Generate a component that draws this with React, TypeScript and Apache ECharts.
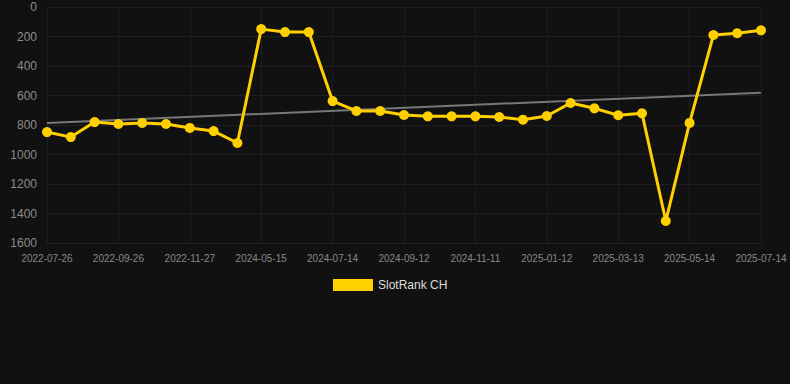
import React, { useEffect, useRef } from "react";
import * as echarts from "echarts";

const categories: string[] = [
  "2022-07-26", "2022-08-15", "2022-09-05", "2022-09-26", "2022-10-16", "2022-11-06",
  "2022-11-27", "2022-12-18", "2023-01-08", "2024-05-15", "2024-06-04", "2024-06-24",
  "2024-07-14", "2024-08-03", "2024-08-23", "2024-09-12", "2024-10-02", "2024-10-22",
  "2024-11-11", "2024-12-01", "2024-12-22", "2025-01-12", "2025-02-01", "2025-02-21",
  "2025-03-13", "2025-04-02", "2025-04-23", "2025-05-14", "2025-06-03", "2025-06-23",
  "2025-07-14",
];

const rankValues: number[] = [
  848, 882, 780, 793, 786, 793, 820, 841, 922, 150, 170, 170,
  638, 705, 705, 732, 741, 741, 741, 746, 764, 739, 651, 687,
  734, 721, 1451, 786, 190, 178, 158,
];

const trendStart = 786;
const trendEnd = 581;

const yTicks = { min: 0, max: 1600, interval: 200 };

export default function App() {
  const ref = useRef<HTMLDivElement>(null);
  useEffect(() => {
    document.body.style.margin = "0";
    document.body.style.background = "#111111";
    const chart = echarts.init(ref.current!, undefined, { renderer: "svg" });
    const trendData: (number | null)[] = categories.map((_, i) =>
      i === 0 ? trendStart : i === categories.length - 1 ? trendEnd : null
    );
    chart.setOption({
      animation: false,
      backgroundColor: "#111111",
      grid: { left: 47, right: 29, top: 7, bottom: 141 },
      legend: {
        top: 274,
        left: 328,
        itemWidth: 40,
        itemHeight: 12,
        itemGap: 10,
        icon: "rect",
        data: ["SlotRank CH"],
        textStyle: { color: "#dddddd", fontSize: 12, fontFamily: "Arial, Liberation Sans, sans-serif" },
      },
      xAxis: {
        type: "category",
        data: categories,
        boundaryGap: false,
        axisLine: { show: false },
        axisTick: { show: false },
        axisLabel: {
          interval: 2,
          color: "#888888",
          fontSize: 10,
          margin: 10,
          fontFamily: "Arial, Liberation Sans, sans-serif",
        },
        splitLine: { show: true, interval: 2, lineStyle: { color: "#1e1e1e", width: 1 } },
      },
      yAxis: {
        type: "value",
        inverse: true,
        min: yTicks.min,
        max: yTicks.max,
        interval: yTicks.interval,
        axisLine: { show: false },
        axisTick: { show: false },
        axisLabel: {
          color: "#8c8c8c",
          fontSize: 12,
          margin: 10,
          formatter: (v: number) => String(v),
          fontFamily: "Arial, Liberation Sans, sans-serif",
        },
        splitLine: { show: true, lineStyle: { color: "#1e1e1e", width: 1 } },
      },
      series: [
        {
          name: "SlotRank CH",
          type: "line",
          data: rankValues,
          itemStyle: { color: "#FFD000" },
          lineStyle: { color: "#FFD000", width: 3 },
          symbol: "circle",
          symbolSize: 10,
          z: 3,
        },
        {
          name: "trend",
          type: "line",
          data: trendData,
          connectNulls: true,
          showSymbol: false,
          symbol: "none",
          lineStyle: { color: "#777777", width: 2 },
          itemStyle: { color: "#777777" },
          z: 2,
        },
      ],
    });
    return () => chart.dispose();
  }, []);
  return <div ref={ref} style={{ width: 790, height: 384 }} />;
}
